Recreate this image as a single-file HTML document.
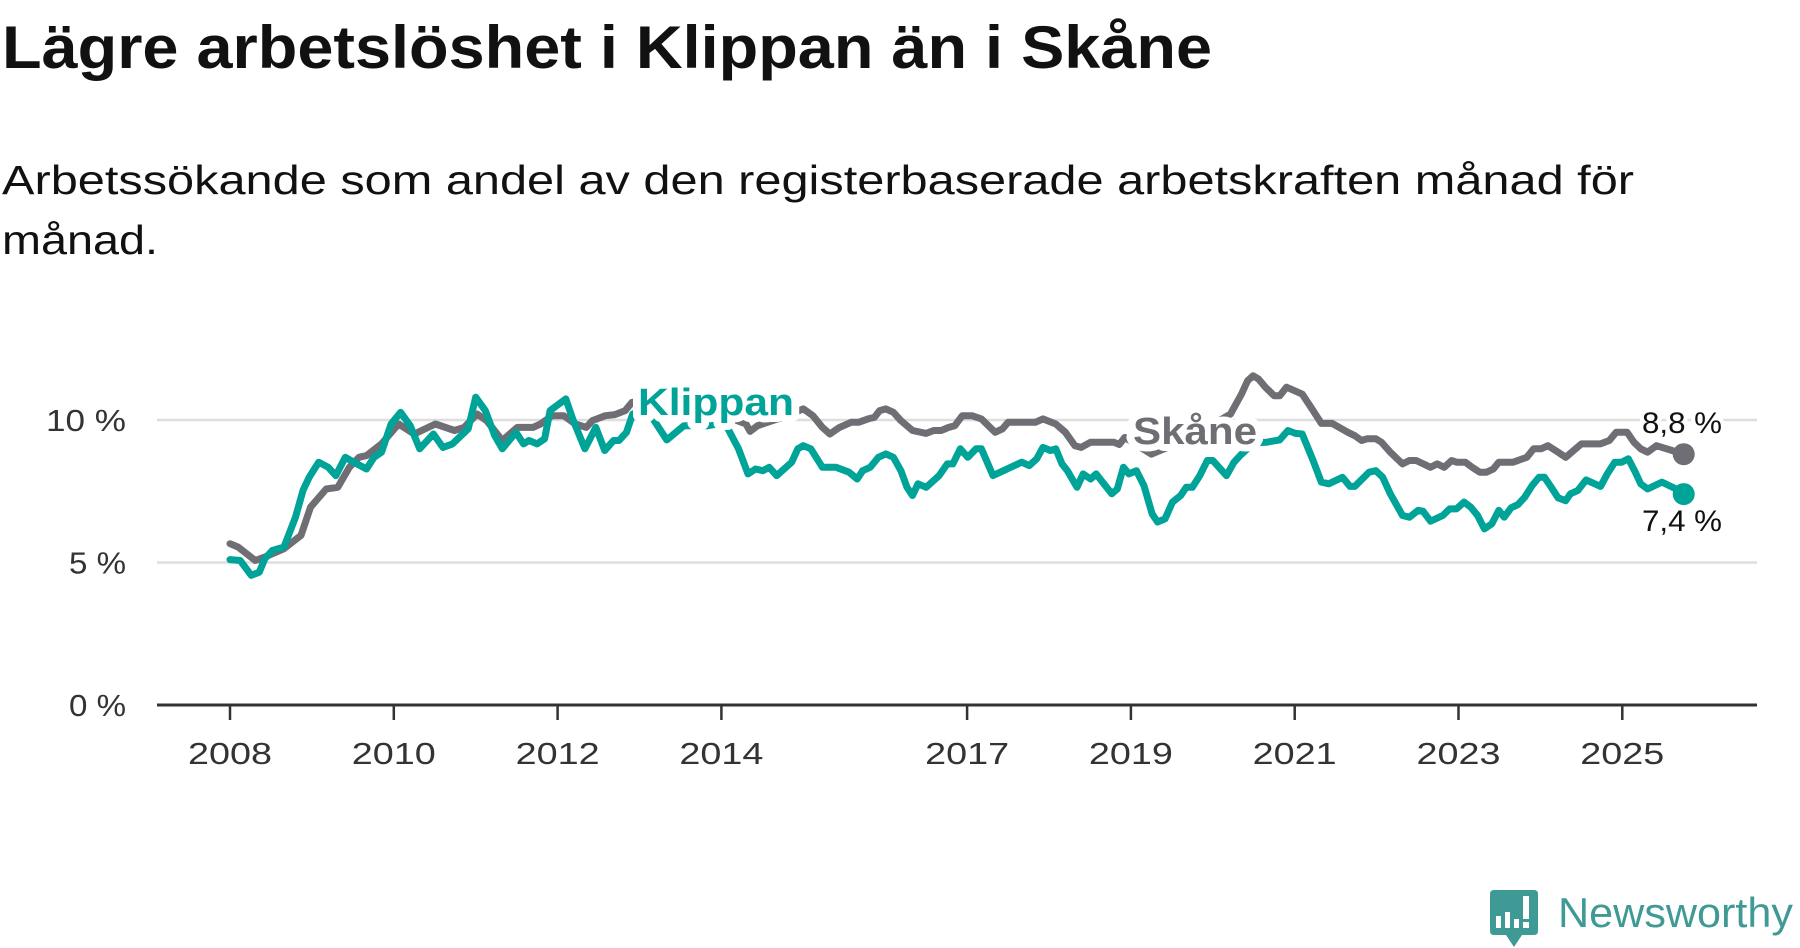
<!DOCTYPE html>
<html><head><meta charset="utf-8"><style>
html,body{margin:0;padding:0;background:#fff;}
svg{display:block;font-family:"Liberation Sans",sans-serif;}
</style></head><body>
<svg id="chart" width="1800" height="948" viewBox="0 0 1800 948">
<text x="2" y="68" font-size="60" font-weight="bold" fill="#111" textLength="1210" lengthAdjust="spacingAndGlyphs">Lägre arbetslöshet i Klippan än i Skåne</text>
<text x="2" y="194" font-size="41" fill="#111" textLength="1632" lengthAdjust="spacingAndGlyphs">Arbetssökande som andel av den registerbaserade arbetskraften månad för</text>
<text x="2" y="254" font-size="41" fill="#111" textLength="156" lengthAdjust="spacingAndGlyphs">månad.</text>
<g id="grid"></g><g id="axes"></g><g id="series"></g><g id="labels"></g>
<g>
<path d="M1494 890 H1534 Q1538 890 1538 894 V931 Q1538 935 1534 935 H1522 L1514 947 L1506 935 H1494 Q1490 935 1490 931 V894 Q1490 890 1494 890 Z" fill="#3f9a95"/>
<rect x="1496" y="916" width="5" height="12" fill="#fff"/><rect x="1505" y="912" width="5" height="16" fill="#fff"/><rect x="1514" y="919" width="5" height="9" fill="#fff"/><rect x="1523" y="896" width="6" height="23" fill="#fff"/><rect x="1523" y="922" width="6" height="6" fill="#fff"/>
<text x="1558" y="927" font-size="42" fill="#3f9a95" textLength="235" lengthAdjust="spacingAndGlyphs">Newsworthy</text>
</g>
</svg>
<script>
const yTicks=[0,5,10];
const yTickLabels=["0 %","5 %","10 %"];
const xTickYears=[2008,2010,2012,2014,2017,2019,2021,2023,2025];
const skaneMonths=[0,1.2,3.7,5.1,7.9,10.4,11.8,14.1,15.8,17.5,18.9,20,22.2,24.7,27,30.1,32.9,34.3,36.2,37.6,39.9,42.1,44.4,45.5,47.2,48.9,50.6,52.2,53.1,55,56.4,57.9,58.9,62,66,70,73,75.6,76.2,77.3,81,84,85.4,86.8,87.9,89.3,91,92.1,93.5,94.4,95.2,96.1,97.2,98.3,100,102,103.1,104.2,105.3,106.2,107.3,108.7,110.1,112.1,113.2,114,118,119.1,121,122.4,123.8,124.7,126.1,129.5,130.3,131.1,135,140,143,146.6,148.2,149.1,149.9,150.7,151.7,153,153.8,154.8,157.1,158.7,159.9,161.5,163.8,164.8,165.8,166.6,167.9,168.7,170,171.8,172.8,173.8,175.9,176.9,177.9,179,179.7,181,182,183.1,184.1,185.1,185.9,188,190,191,192.1,193.1,194.6,195.7,198,200.8,202.1,203.1,204.7,205.7,206.7,207.7,209,211,213];
const skaneValues=[5.66,5.54,5.07,5.19,5.48,5.95,6.94,7.58,7.64,8.34,8.69,8.75,9.16,9.86,9.51,9.86,9.63,9.74,10.21,9.98,9.28,9.74,9.74,9.86,10.15,10.15,9.86,9.74,9.98,10.15,10.19,10.33,10.62,10.7,10.4,10.2,10.1,9.86,9.6,9.8,10.1,10.39,10.15,9.74,9.51,9.74,9.92,9.92,10.04,10.09,10.33,10.39,10.27,9.98,9.63,9.53,9.63,9.63,9.74,9.8,10.15,10.15,10.04,9.57,9.69,9.92,9.92,10.04,9.86,9.57,9.1,9.04,9.22,9.22,9.14,9.39,8.8,9.3,9.7,10.21,10.91,11.38,11.55,11.44,11.15,10.85,10.85,11.15,10.91,10.33,9.88,9.88,9.57,9.45,9.28,9.34,9.34,9.22,8.87,8.46,8.58,8.58,8.34,8.46,8.34,8.58,8.52,8.52,8.34,8.17,8.17,8.28,8.52,8.52,8.69,8.99,8.99,9.1,8.87,8.69,9.16,9.16,9.28,9.57,9.57,9.22,8.99,8.87,9.1,8.95,8.8];
const klippanMonths=[0,1.5,3.1,4.3,5.1,6.2,7.9,9.6,10.7,11.6,13,14.4,15.5,16.9,18.6,20,21.1,22.2,23.6,25,26.4,27.8,29.8,31.2,32.6,34.9,36,37.4,38.8,39.9,41.9,43,43.8,45,46.1,46.9,49.2,50.3,52,53.6,54.9,56.2,57,58.1,59,61,64,66.5,70,72.5,74.5,75.9,77,78.1,79,80.1,82.3,83.2,84,85.1,86.8,88.8,90.7,91.9,92.7,93.8,95,96.1,97.2,98.3,99.2,100,100.8,102,103.9,105.1,105.9,107,108.1,109.3,110.1,111.8,116,117.1,118.2,119.1,120.2,121,121.9,122.7,124.1,125,126.1,126.9,129.2,130,130.9,131.7,132.8,133.9,135.1,135.9,137,138.1,139.3,140.1,141,142.1,143.2,144,146,147.1,148,150,151.9,153.8,155,156.1,157.1,158.7,159.9,161,163,164.1,164.8,166.9,167.9,168.9,170,171.8,172.8,174.1,174.8,175.9,177.7,178.7,179.7,180.8,181.8,182.8,183.8,184.9,185.9,186.7,187.7,188.7,189.7,190.8,191.8,192.6,193.6,194.6,195.7,196.4,197.5,198.7,200.8,201.8,202.9,203.9,204.9,205.9,206.7,207.7,209.8,211.9,213];
const klippanValues=[5.1,5.07,4.55,4.66,5.13,5.42,5.54,6.59,7.53,7.99,8.52,8.34,8.05,8.69,8.46,8.28,8.69,8.87,9.86,10.27,9.8,8.99,9.51,9.04,9.16,9.69,10.8,10.33,9.45,8.99,9.57,9.16,9.28,9.16,9.34,10.33,10.74,9.98,8.99,9.74,8.93,9.28,9.28,9.57,10.21,10.4,9.3,9.8,9.8,9.9,8.99,8.11,8.28,8.22,8.34,8.05,8.52,8.99,9.1,8.99,8.34,8.34,8.17,7.93,8.22,8.34,8.69,8.81,8.69,8.22,7.64,7.35,7.76,7.64,8.05,8.46,8.46,8.99,8.69,8.99,8.99,8.05,8.52,8.4,8.64,9.04,8.93,8.99,8.46,8.22,7.64,8.11,7.93,8.11,7.41,7.58,8.34,8.11,8.22,7.7,6.71,6.42,6.53,7.12,7.35,7.64,7.64,8.05,8.58,8.58,8.05,8.52,8.75,9.2,9.22,9.3,9.63,9.53,9.51,8.58,7.82,7.76,7.99,7.67,7.67,8.17,8.22,7.99,7.41,6.65,6.59,6.83,6.8,6.45,6.65,6.88,6.88,7.12,6.94,6.65,6.18,6.36,6.83,6.59,6.92,7.03,7.29,7.7,7.99,7.99,7.64,7.27,7.17,7.41,7.53,7.9,7.67,8.11,8.52,8.52,8.64,8.17,7.76,7.58,7.82,7.58,7.4];
const skaneLast="8,8 %", klippanLast="7,4 %";

const NS="http://www.w3.org/2000/svg";
const x=m=>230+m/12*81.9;
const y=v=>705-v*28.5;
function mk(tag,attrs,parent){const e=document.createElementNS(NS,tag);for(const k in attrs)e.setAttribute(k,attrs[k]);parent.appendChild(e);return e;}
const grid=document.getElementById('grid'),axes=document.getElementById('axes'),ser=document.getElementById('series'),lab=document.getElementById('labels');
yTicks.forEach((t,i)=>{
  if(t>0){const g=mk('line',{x1:157,x2:1757,y1:y(t),y2:y(t),stroke:'#dedede','stroke-width':2.5},grid);
  
  }
  const tx=mk('text',{x:126,y:y(t)+11,'text-anchor':'end','font-size':31,fill:'#333',textLength:yTickLabels[i].length>3?80:57,lengthAdjust:'spacingAndGlyphs'},axes);
  tx.textContent=yTickLabels[i];
  
  
});
const ax=mk('line',{x1:157,x2:1757,y1:705,y2:705,stroke:'#333','stroke-width':3},axes);


xTickYears.forEach(yr=>{
  const px=x((yr-2008)*12);
  const tk=mk('line',{x1:px,x2:px,y1:705,y2:720,stroke:'#333','stroke-width':2.5},axes);
  
  
  const tx=mk('text',{x:px,y:764,'text-anchor':'middle','font-size':31,fill:'#333',textLength:84,lengthAdjust:'spacingAndGlyphs'},axes);
  tx.textContent=yr;
  
  
});
function line(ms,vs,color,name){
  const d=ms.map((m,i)=>(i?'L':'M')+x(m).toFixed(1)+' '+y(vs[i]).toFixed(1)).join(' ');
  const p=mk('path',{d:d,fill:'none',stroke:color,'stroke-width':7,'stroke-linejoin':'round','stroke-linecap':'round'},ser);
  
  
  const c=mk('circle',{cx:x(ms[ms.length-1]),cy:y(vs[vs.length-1]),r:11,fill:color},ser);
  
  
}
line(skaneMonths,skaneValues,'#6f6e74','skane');
line(klippanMonths,klippanValues,'#00a398','klippan');
function label(txt,xx,yy,size,color,bold,w,name,halo){
  const t=mk('text',{x:xx,y:yy,'font-size':size,fill:color,'font-weight':bold?'bold':'normal',stroke:'#fff','stroke-width':halo,'paint-order':'stroke','stroke-linejoin':'round'},lab);
  if(w){t.setAttribute('textLength',w);t.setAttribute('lengthAdjust','spacingAndGlyphs');}
  t.textContent=txt;
  
  
}
label('Klippan',638,415,38,'#00a398',true,156,'klippan-series-label',14);
label('Skåne',1133,444,38,'#6f6e74',true,124,'skane-series-label',14);
label(skaneLast,1642,433,30,'#111',false,80,'skane-last-value',8);
label(klippanLast,1642,531,30,'#111',false,80,'klippan-last-value',8);
</script>
</body></html>
